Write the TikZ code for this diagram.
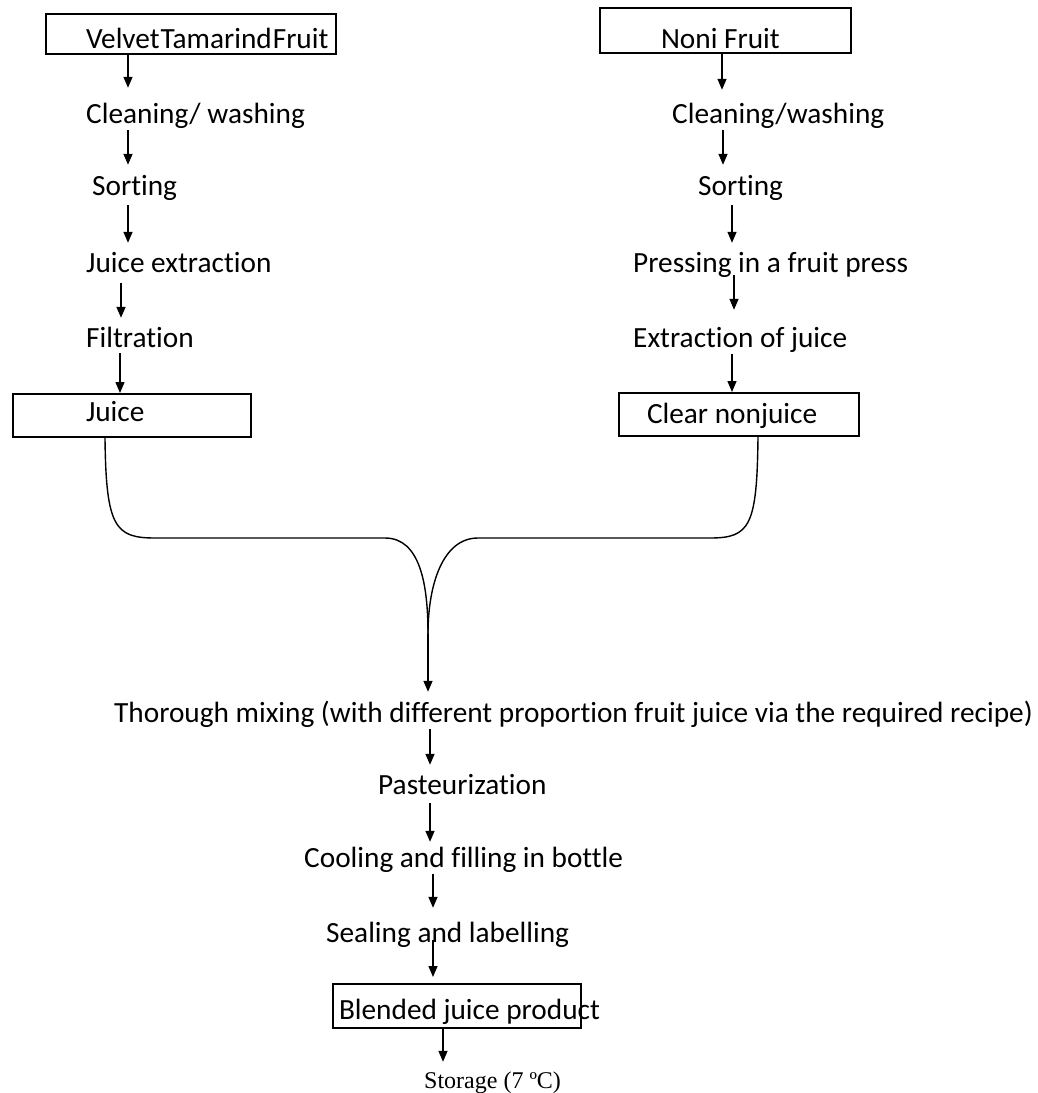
\documentclass[tikz,border=0pt]{standalone}
\usepackage{fontspec}
\setmainfont{Carlito}[Ligatures={NoCommon}]
\newfontfamily\storagefont{Liberation Serif}
\usetikzlibrary{arrows.meta,positioning,calc}
\newcommand\boxtext[1]{\mbox{\spaceskip=0pt #1}}

\begin{document}
\begin{tikzpicture}[x=1pt,y=-1pt,
  stage/.style={anchor=base west,inner sep=0pt,text height=22pt,text depth=7pt,
                font=\fontsize{29.3}{34}\selectfont},
  stagebox/.style={draw,line width=2pt,anchor=north west,align=left,inner ysep=0pt,
                   text depth=0pt,font=\fontsize{29.3}{34}\selectfont},
  arr/.style={-{Triangle[length=11pt,width=9pt]},line width=1.4pt},
  link/.style={line width=1.4pt}
]
\useasboundingbox (0,0) rectangle (1038,1093);
% the two raw fruits
\node[stagebox,minimum width=290pt,minimum height=40pt,inner xsep=40pt,
  text width=210pt,text height=28pt] (vt) at (45,13)
  {\mbox{\spaceskip=1pt Velvet Tamarind Fruit}};
\node[stagebox,minimum width=251pt,minimum height=45pt,inner xsep=61pt,
  text width=129pt,text height=35pt] (noni) at (599,7) {\boxtext{Noni Fruit}};
% plain steps
\foreach \k/\x/\y/\t in {
  lclean/86/123/{Cleaning/ washing}, lsort/92/195/{Sorting},
  lextr/86/272/{Juice extraction}, lfilt/86/347/{Filtration},
  rclean/672/123/{Cleaning/washing}, rsort/698/195/{Sorting},
  rpress/633/272/{Pressing in a fruit press}, rextr/633/347/{Extraction of juice},
  mix/114/722/{Thorough mixing (with different proportion fruit juice via the required recipe)},
  past/378/794/{Pasteurization}, cool/304/867/{Cooling and filling in bottle},
  seal/326/942/{Sealing and labelling}
} {
  \node[stage] (\k) at (\x,\y) {\t};
}
\node[stagebox,minimum width=238pt,minimum height=43pt,inner xsep=73pt,
  text width=92pt,text height=11pt] (juice) at (12,393) {\boxtext{Juice}};
\node[stagebox,minimum width=240pt,minimum height=43pt,inner xsep=28pt,
  text width=184pt,text height=17pt] (clear) at (618,392) {\boxtext{Clear nonjuice}};
\node[stagebox,minimum width=248pt,minimum height=44pt,inner xsep=6pt,
  text width=236pt,text height=26pt] (blend) at (332,983) {\boxtext{Blended juice product}};
\node[anchor=base west,inner sep=0pt,text height=22pt,text depth=7pt,
  font=\storagefont\fontsize{24}{28}\selectfont] (store) at (424,1088)
  {Storage (7 ºC)};
% arrows down each column
\foreach \a/\d/\b/\s/\e in {
  vt/83/lclean/0/13, lclean/42/lsort/0/8, lsort/36/lextr/3/7,
  lextr/35/lfilt/4/7, lfilt/34/juice/-1/0,
  noni/123/rclean/0/11, rclean/51/rsort/0/8, rsort/34/rpress/3/7,
  rpress/101/rextr/-4/15, rextr/99/clear/0/0,
  mix/316/past/0/7, past/52/cool/2/3, cool/129/seal/0/12,
  seal/107/blend/-9/6, blend/111/store/0/4
} {
  \draw[arr,shorten <=\s pt,shorten >=\e pt] ([xshift=\d pt]\a.south west)
    -- ([xshift=\d pt]\a.south west |- \b.north);
}
% joining the two juices
\coordinate (tip) at (428,634);
\draw[link] ([xshift=93pt]juice.south west) .. controls +(1,89) and +(-40,0) .. ++(50,100)
  -- ++(230,0) .. controls +(35,0) and +(0,-50) .. (tip);
\draw[link] ([xshift=140pt]clear.south west) .. controls +(-1,89) and +(40,0) .. ++(-48,101)
  -- ++(-232,0) .. controls +(-35,0) and +(0,-50) .. (tip);
\draw[arr,shorten >=8pt] (tip) -- (tip |- mix.north);
\end{tikzpicture}
\end{document}
